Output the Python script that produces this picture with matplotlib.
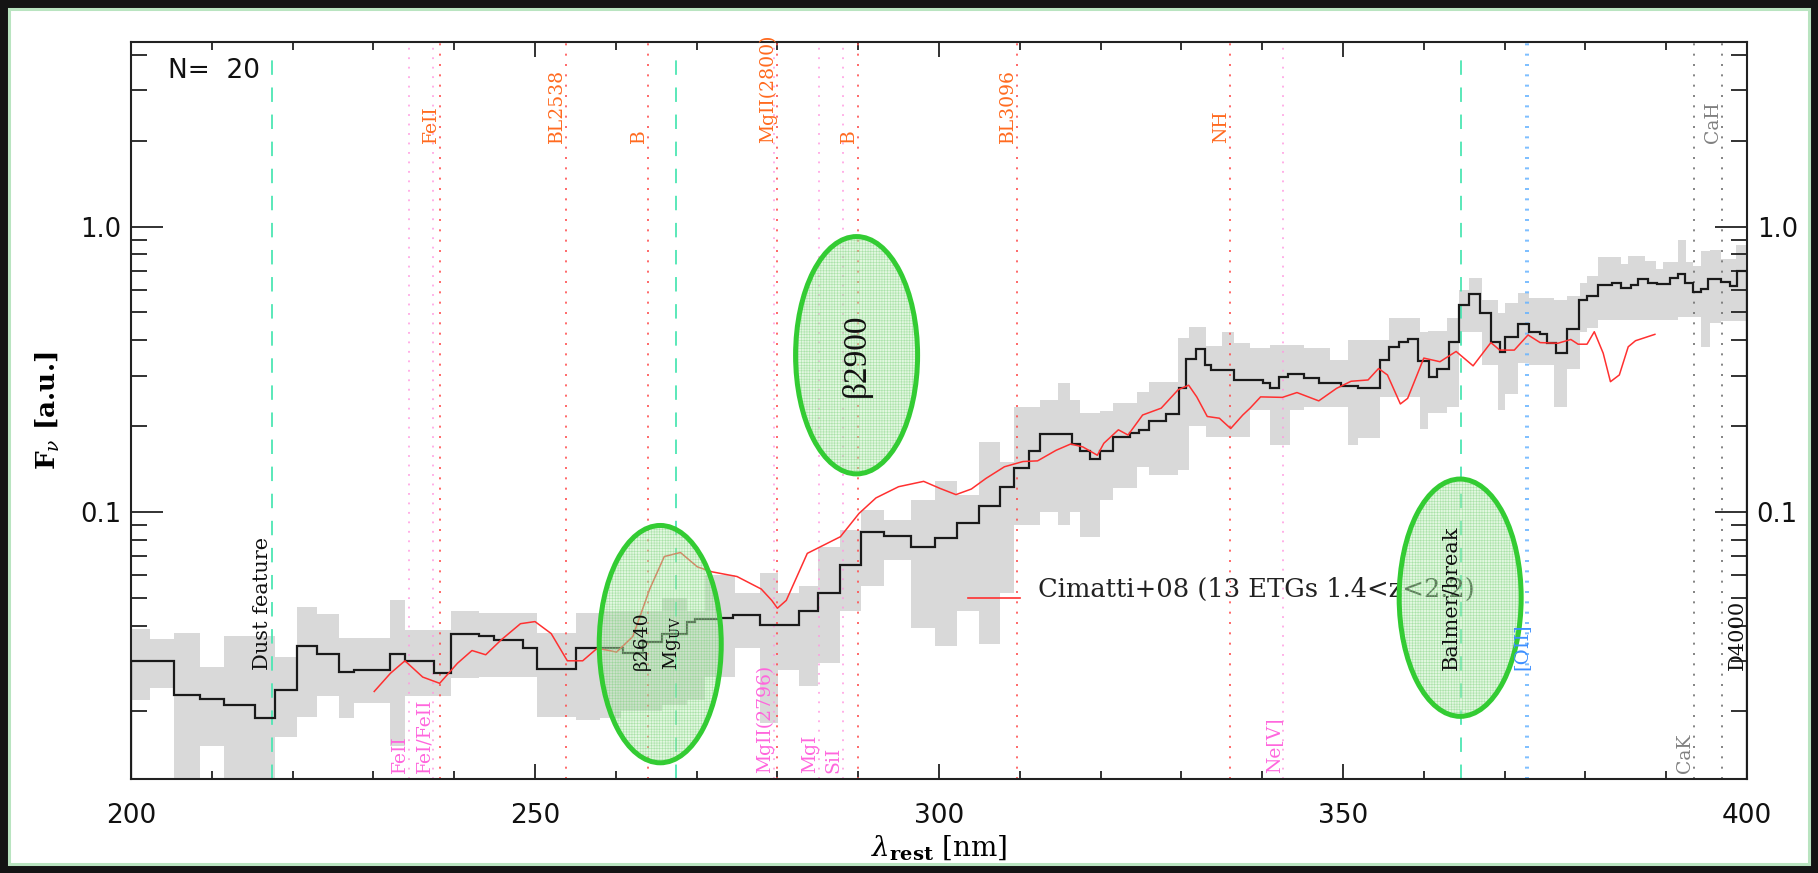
import matplotlib.pyplot as plt
from matplotlib.patches import Ellipse, Rectangle
from matplotlib.ticker import FixedLocator, NullFormatter, FuncFormatter, MultipleLocator
from matplotlib.transforms import blended_transform_factory

plt.rcParams['mathtext.fontset'] = 'dejavuserif'
plt.rcParams['hatch.linewidth'] = 0.4

# median stack (N=20): bin edges [nm] and flux per bin
stack_edges = [200.0, 205.3, 208.5, 211.5, 215.3, 217.8, 220.5, 223.0, 225.8, 227.6,
               232.1, 233.9, 237.5, 239.6, 243.1, 244.9, 248.5, 250.3, 255.1, 260.9,
               263.4, 265.7, 268.8, 269.8, 272.9, 274.5, 277.8, 282.7, 285.0, 287.8,
               290.4, 293.2, 296.5, 299.5, 302.2, 305.0, 307.5, 309.3, 311.1, 312.5,
               316.4, 317.4, 318.7, 319.9, 321.5, 323.7, 324.7, 326.0, 328.1, 329.7,
               330.6, 331.8, 332.9, 333.7, 336.5, 340.1, 341.0, 342.1, 343.2, 345.2,
               347.0, 349.7, 351.9, 354.6, 355.7, 356.9, 358.1, 359.3, 360.6, 361.6,
               363.1, 364.3, 365.6, 367.0, 368.3, 369.4, 370.1, 371.6, 373.0, 374.4,
               375.3, 376.4, 377.7, 379.2, 380.2, 381.6, 383.3, 384.4, 385.6, 386.5,
               387.8, 388.9, 390.5, 391.4, 392.3, 393.3, 394.3, 395.2, 396.8, 397.9,
               398.8, 400.0]
stack_flux = [0.0301, 0.0229, 0.0221, 0.0210, 0.0189, 0.0238, 0.0339, 0.0318, 0.0276,
              0.0279, 0.0318, 0.0301, 0.0272, 0.0373, 0.0368, 0.0356, 0.0333, 0.0281,
              0.0334, 0.0320, 0.0349, 0.0375, 0.0413, 0.0420, 0.0426, 0.0435, 0.0402,
              0.0448, 0.0519, 0.0652, 0.0849, 0.0823, 0.0752, 0.0808, 0.0912, 0.105,
              0.1226, 0.1425, 0.164, 0.1875, 0.1729, 0.164, 0.153, 0.163, 0.183,
              0.189, 0.194, 0.2075, 0.221, 0.271, 0.343, 0.371, 0.327, 0.314, 0.290,
              0.284, 0.271, 0.296, 0.305, 0.294, 0.282, 0.277, 0.272, 0.341, 0.379,
              0.395, 0.403, 0.339, 0.298, 0.318, 0.395, 0.531, 0.580, 0.496, 0.395,
              0.364, 0.411, 0.454, 0.428, 0.419, 0.390, 0.360, 0.437, 0.553, 0.571,
              0.624, 0.632, 0.607, 0.624, 0.653, 0.636, 0.628, 0.662, 0.682, 0.636,
              0.591, 0.603, 0.653, 0.641, 0.619, 0.700]

# scatter of the individual spectra around the stack
band_edges = [200.0, 202.3, 205.3, 208.5, 211.5, 217.8, 220.5, 223.0, 225.8, 227.6,
              232.1, 233.9, 239.6, 243.1, 248.5, 250.3, 255.1, 258.0, 260.6, 265.7,
              268.8, 271.1, 274.7, 277.8, 280.1, 282.7, 285.0, 287.8, 290.4, 293.2,
              296.5, 299.5, 302.2, 305.0, 307.5, 309.3, 312.5, 314.7, 316.2, 317.5,
              319.9, 321.5, 324.5, 326.0, 329.6, 330.9, 333.0, 335.0, 336.5, 338.5,
              341.0, 343.4, 345.2, 348.4, 350.6, 351.9, 354.6, 355.7, 359.5, 360.5,
              362.9, 364.3, 365.6, 367.2, 369.2, 370.1, 371.7, 373.0, 376.1, 377.7,
              379.3, 380.2, 381.5, 384.4, 385.3, 387.4, 388.7, 389.6, 391.4, 392.5,
              393.3, 394.3, 395.4, 396.8, 398.6, 400.0]
band_lo = [0.022, 0.0241, 0.008, 0.0151, 0.008, 0.0163, 0.0192, 0.0226, 0.0189, 0.0214,
           0.0151, 0.0226, 0.0261, 0.0264, 0.0264, 0.0192, 0.0187, 0.0189, 0.020, 0.021,
           0.022, 0.0264, 0.0334, 0.0182, 0.028, 0.0245, 0.0295, 0.0448, 0.055, 0.068,
           0.0393, 0.0339, 0.045, 0.0345, 0.052, 0.09, 0.10, 0.09, 0.10, 0.082,
           0.11, 0.121, 0.144, 0.135, 0.14, 0.20, 0.183, 0.183, 0.183, 0.228,
           0.172, 0.228, 0.234, 0.234, 0.172, 0.181, 0.253, 0.253, 0.195, 0.222,
           0.234, 0.426, 0.426, 0.328, 0.228, 0.26, 0.332, 0.328, 0.234, 0.316,
           0.426, 0.44, 0.47, 0.47, 0.47, 0.47, 0.47, 0.47, 0.48, 0.48,
           0.48, 0.379, 0.46, 0.466, 0.466]
band_hi = [0.0388, 0.0359, 0.0376, 0.0287, 0.0368, 0.031, 0.0464, 0.044, 0.0361, 0.0361,
           0.0492, 0.0385, 0.0448, 0.0442, 0.0442, 0.0376, 0.0442, 0.045, 0.045, 0.050,
           0.045, 0.060, 0.052, 0.061, 0.052, 0.055, 0.0755, 0.0866, 0.102, 0.094,
           0.110, 0.128, 0.115, 0.176, 0.150, 0.234, 0.247, 0.284, 0.247, 0.222,
           0.225, 0.24, 0.264, 0.286, 0.406, 0.445, 0.38, 0.428, 0.39, 0.374,
           0.384, 0.384, 0.374, 0.341, 0.40, 0.40, 0.40, 0.477, 0.426, 0.432,
           0.477, 0.60, 0.659, 0.553, 0.496, 0.541, 0.586, 0.56, 0.553, 0.57,
           0.632, 0.671, 0.78, 0.74, 0.788, 0.76, 0.708, 0.75, 0.897, 0.75,
           0.73, 0.823, 0.83, 0.77, 0.862]

# Cimatti+08 ETG template
tmpl_wl = [230.1, 232.1, 233.9, 236.1, 238.2, 240.4, 242.2, 243.9, 245.8, 248.2,
           250.0, 252.0, 254.0, 255.9, 257.7, 260.1, 262.1, 263.7, 264.2, 266.0,
           268.0, 270.1, 271.9, 275.0, 278.0, 279.3, 280.0, 281.1, 283.7, 287.8,
           290.1, 292.2, 295.0, 298.1, 300.1, 302.1, 304.0, 305.8, 308.1, 310.4,
           312.2, 314.5, 316.3, 317.8, 319.6, 320.4, 322.2, 323.4, 325.2, 327.5,
           329.6, 330.9, 331.9, 333.2, 334.7, 336.1, 337.6, 338.5, 339.8, 342.5,
           344.3, 347.0, 349.2, 351.0, 353.1, 354.4, 355.5, 357.1, 358.0, 360.0,
           362.0, 364.0, 366.1, 368.3, 369.4, 371.2, 372.9, 374.4, 376.6, 378.2,
           379.1, 380.2, 381.1, 382.2, 383.1, 384.2, 385.3, 386.2, 388.6]
tmpl_flux = [0.0235, 0.0272, 0.0301, 0.0264, 0.0251, 0.0295, 0.0327, 0.0316, 0.0356, 0.0406,
             0.0413, 0.0375, 0.0301, 0.0301, 0.0333, 0.0323, 0.0366, 0.049, 0.0537, 0.0698,
             0.0721, 0.0642, 0.0617, 0.0594, 0.0537, 0.049, 0.046, 0.049, 0.0716, 0.0819,
             0.0988, 0.112, 0.1226, 0.128, 0.121, 0.115, 0.1203, 0.131, 0.144, 0.1502,
             0.151, 0.1645, 0.173, 0.169, 0.158, 0.174, 0.194, 0.186, 0.2186, 0.231,
             0.268, 0.278, 0.253, 0.216, 0.213, 0.196, 0.2186, 0.231, 0.253, 0.252,
             0.262, 0.245, 0.271, 0.287, 0.290, 0.318, 0.302, 0.239, 0.250, 0.346,
             0.336, 0.365, 0.325, 0.392, 0.369, 0.369, 0.417, 0.392, 0.390, 0.402,
             0.387, 0.387, 0.428, 0.360, 0.286, 0.302, 0.379, 0.398, 0.419]

# spectral features [nm]
abs_lines = [238.2, 253.8, 264.0, 280.0, 290.0, 309.6, 336.0]
ism_lines = [234.4, 237.4, 279.6, 285.2, 288.1, 342.6]
break_lines = [217.5, 267.4, 364.6]
oii_lines = [372.6, 372.95]
ca_lines = [393.4, 396.9]

top_labels = [('FeII', 238.2), ('BL2538', 253.8), ('B', 264.0), ('MgII(2800)', 280.0),
              ('B', 290.0), ('BL3096', 309.6), ('NH', 336.0)]
bottom_labels = [('FeII', 234.4), ('FeI/FeII', 237.4), ('MgII(2796)', 279.6),
                 ('MgI', 285.2), ('SiI', 288.1), ('Ne[V]', 342.6)]
mid_labels = [('Dust feature', 217.5), ('Balmer/break', 364.6), ('D4000', 400.0)]
uv_labels = [('\u03b22640', 264.4), (r'Mg$_{\rm UV}$', 268.3)]
circled = [(265.5, 0.183), (289.8, 0.575), (364.5, 0.246)]

W, H = 1818, 873
fig = plt.figure(figsize=(W / 100, H / 100), dpi=100, facecolor='#141414')
fig.add_artist(Rectangle((9 / W, 9 / H), 1 - 18 / W, 1 - 18 / H, transform=fig.transFigure,
                         facecolor='white', edgecolor='#b9e4c0', lw=2.2, zorder=-5))
ax = fig.add_axes([131 / W, (H - 779) / H, (1747 - 131) / W, (779 - 42) / H])
trans = blended_transform_factory(ax.transData, ax.transAxes)

# scatter band, stack and template
ax.stairs(band_hi, band_edges, baseline=band_lo, fill=True, color='#d9d9d9', lw=0, zorder=1)
ax.stairs(stack_flux, stack_edges, color='#1a1a1a', lw=1.6, zorder=4)
ax.plot(tmpl_wl, tmpl_flux, color='#ff3030', lw=1.1, zorder=4.5)

for x in abs_lines:
    ax.axvline(x, color='#ff5050', lw=1.2, ls=(0, (1.2, 5)), zorder=2)
for x in ism_lines:
    ax.axvline(x, color='#ff99e0', lw=1.1, ls=(0, (1.2, 5)), zorder=2)
for x in break_lines:
    ax.axvline(x, ymax=0.985, color='#4de6b3', lw=1.3, ls=(0, (8, 7)), zorder=2)
for x in oii_lines:
    ax.axvline(x, color='#66b3ff', lw=1.2, ls=(0, (1.2, 5)), zorder=2)
for x in ca_lines:
    ax.axvline(x, color='#707070', lw=1.2, ls=(0, (1.2, 5)), zorder=2)

lab = dict(transform=trans, rotation=90, ha='right', va='bottom', family='DejaVu Serif', zorder=7)
for txt, x in top_labels:
    ax.text(x, 0.863, txt, color='#ff6a1f', fontsize=13.5, **lab)
ax.text(396.9, 0.863, 'CaH', color='#808080', fontsize=13.5, **lab)
for txt, x in bottom_labels:
    ax.text(x, 0.008, txt, color='#ff66dd', fontsize=13.5, **lab)
ax.text(393.4, 0.008, 'CaK', color='#808080', fontsize=13.5, **lab)
for txt, x in mid_labels:
    ax.text(x, 0.148, txt, color='#111111', fontsize=15, **lab)
for txt, x in uv_labels:
    ax.text(x, 0.148, txt, color='#111111', fontsize=13.5, **lab)
ax.text(373.2, 0.148, '[OII]', color='#3d8fff', fontsize=14, **lab)

# highlighted features
for xc, yc in circled:
    ax.add_patch(Ellipse((xc, yc), 15.1, 0.322, transform=trans,
                         facecolor=(0.72, 0.93, 0.7, 0.42), edgecolor='none', zorder=5))
    ax.add_patch(Ellipse((xc, yc), 15.1, 0.322, transform=trans, fill=False,
                         hatch='++++++', edgecolor=(0.45, 0.8, 0.45, 0.5), lw=0, zorder=5))
    ax.add_patch(Ellipse((xc, yc), 15.1, 0.322, transform=trans, fill=False,
                         edgecolor='#33cc33', lw=3.6, zorder=6))
ax.text(289.8, 0.575, '\u03b22900', transform=trans, rotation=90, ha='center', va='center',
        fontsize=24, family='Liberation Serif', color='#111111', zorder=7)

# legend
ax.plot([0.518, 0.550], [0.246, 0.246], transform=ax.transAxes, color='#ff3030', lw=1.2, zorder=4)
ax.text(0.561, 0.247, 'Cimatti+08 (13 ETGs 1.4<z<2.2)', transform=ax.transAxes,
        va='baseline', ha='left', fontsize=18.5, family='DejaVu Serif', color='#222222', zorder=4)
ax.text(0.023, 0.978, 'N=  20', transform=ax.transAxes, va='top', ha='left',
        fontsize=19, family='DejaVu Sans', color='#111111')

ax.set_xlim(200, 400)
ax.set_yscale('log')
ax.set_ylim(0.0116, 4.43)
ax.xaxis.set_major_locator(MultipleLocator(50))
ax.xaxis.set_minor_locator(MultipleLocator(10))
ax.yaxis.set_major_locator(FixedLocator([0.1, 1.0]))
ax.yaxis.set_minor_locator(FixedLocator([m * 10.0 ** e for e in (-2, -1, 0) for m in range(2, 10)]))
ax.yaxis.set_major_formatter(FuncFormatter(lambda v, p: f'{v:.1f}'))
ax.yaxis.set_minor_formatter(NullFormatter())

ax.tick_params(which='both', direction='in', top=True, right=True, labelright=True,
               width=1.3, color='#222222', labelcolor='#111111')
ax.tick_params(axis='x', which='major', length=11, labelsize=19, pad=17)
ax.tick_params(axis='x', which='minor', length=6)
ax.tick_params(axis='y', which='major', length=23, labelsize=18.5, pad=7)
ax.tick_params(axis='y', which='minor', length=11.5)
for s in ax.spines.values():
    s.set_linewidth(1.5)
    s.set_color('#222222')

ax.set_xlabel(r'$\lambda_{\mathbf{rest}}$ [nm]', fontsize=20, family='DejaVu Serif')
ax.xaxis.set_label_coords(0.5, -0.073)
ax.set_ylabel(r'F$_\nu$ [a.u.]', fontsize=19, family='DejaVu Serif', fontweight='bold')
ax.yaxis.set_label_coords(-0.043, 0.5)

fig.savefig('out.png', dpi=100, facecolor=fig.get_facecolor())
